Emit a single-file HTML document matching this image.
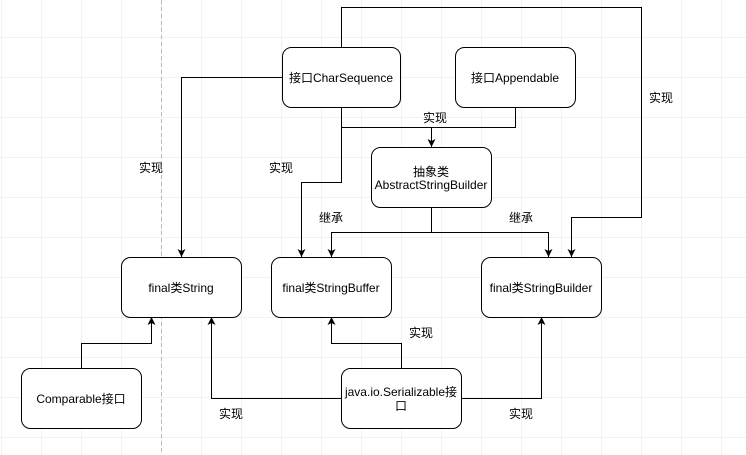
<!DOCTYPE html>
<html><head><meta charset="utf-8"><style>
html,body{margin:0;padding:0;background:#fff;}
svg{display:block;}
text{font-family:"Liberation Sans","Noto Sans CJK SC",sans-serif;font-size:12px;fill:#000;}
</style></head><body>
<svg width="746" height="455" xmlns="http://www.w3.org/2000/svg">
<defs>
<pattern id="g" x="1" y="-3" width="40" height="40" patternUnits="userSpaceOnUse">
<path d="M0 0H40M0 0V40" stroke="#e6e6e6" stroke-width="1" fill="none"/>
</pattern>
<marker id="a" markerWidth="10" markerHeight="10" refX="8" refY="5" orient="auto" markerUnits="userSpaceOnUse">
<path d="M0,1 L8,5 L0,9 L2,5 Z" fill="#000"/>
</marker>
</defs>
<rect width="746" height="455" fill="url(#g)"/>
<line x1="161.5" y1="0" x2="161.5" y2="455" stroke="#bbb" stroke-dasharray="4,3"/>
<g fill="none" stroke="#000" stroke-width="1">
<path d="M282 77.5H181.5V257" marker-end="url(#a)"/>
<path d="M341.5 47V7.5H641.5V217.5H571.5V257" marker-end="url(#a)"/>
<path d="M341.5 107V182.5H301.5V257" marker-end="url(#a)"/>
<path d="M341.5 127.5H431.5V147" marker-end="url(#a)"/>
<path d="M515.5 107V127.5H431.5"/>
<path d="M431.5 207V232.5H331.5V257" marker-end="url(#a)"/>
<path d="M431.5 232.5H548.5V257" marker-end="url(#a)"/>
<path d="M81.5 368V343.5H151.5V317" marker-end="url(#a)"/>
<path d="M342 398.5H211.5V317" marker-end="url(#a)"/>
<path d="M401.5 368V343.5H331.5V317" marker-end="url(#a)"/>
<path d="M461 398.5H541.5V317" marker-end="url(#a)"/>
</g>
<g fill="#fff" stroke="#000" stroke-width="1">
<rect x="282.5" y="47.5" width="118" height="60" rx="9"/>
<rect x="455.5" y="47.5" width="120" height="60" rx="9"/>
<rect x="371.5" y="147.5" width="120" height="60" rx="9"/>
<rect x="121.5" y="257.5" width="120" height="60" rx="9"/>
<rect x="271.5" y="257.5" width="120" height="60" rx="9"/>
<rect x="481.5" y="257.5" width="120" height="60" rx="9"/>
<rect x="21.5" y="368.5" width="120" height="60" rx="9"/>
<rect x="341.5" y="368.5" width="120" height="60" rx="9"/>
</g>
<g text-anchor="middle">
<text x="341" y="82">接口CharSequence</text>
<text x="515" y="82">接口Appendable</text>
<text x="431" y="176">抽象类</text>
<text x="431" y="189">AbstractStringBuilder</text>
<text x="181" y="292">final类String</text>
<text x="331" y="292">final类StringBuffer</text>
<text x="541" y="292">final类StringBuilder</text>
<text x="81" y="403">Comparable接口</text>
<text x="401" y="396">java.io.Serializable接</text>
<text x="401" y="410">口</text>
<text x="151" y="172">实现</text>
<text x="281" y="172">实现</text>
<text x="435" y="122">实现</text>
<text x="661" y="102">实现</text>
<text x="331" y="222">继承</text>
<text x="521" y="222">继承</text>
<text x="421" y="337">实现</text>
<text x="231" y="418">实现</text>
<text x="521" y="418">实现</text>
</g>
</svg>
</body></html>
